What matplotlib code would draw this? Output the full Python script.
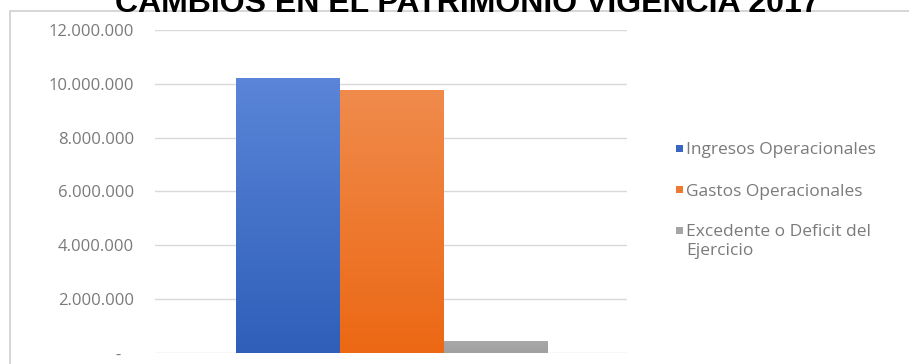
import matplotlib
matplotlib.use("Agg")
import matplotlib.pyplot as plt
import numpy as np
from matplotlib.patches import Rectangle
from matplotlib.ticker import FuncFormatter

title = "CAMBIOS EN EL PATRIMONIO VIGENCIA 2017"
series = ["Ingresos Operacionales", "Gastos Operacionales", "Excedente o Deficit del\nEjercicio"]
values = [10200000, 9770000, 430000]
colors_top = ["#5a85d8", "#f08b4c", "#a8a8a8"]
colors_bottom = ["#2f5fb9", "#ec6814", "#a0a0a0"]
legend_colors = ["#3a66c0", "#ee7a32", "#a5a5a5"]
yticks = [0, 2000000, 4000000, 6000000, 8000000, 10000000, 12000000]

plt.rcParams["font.family"] = ["Open Sans", "DejaVu Sans"]

W, H = 909, 364
fig = plt.figure(figsize=(W / 100, H / 100), dpi=100)
fig.patch.set_facecolor("white")

# outer frame
fig.patches.append(Rectangle((10 / W, -0.1), 1.2, 1 - 11 / H + 0.1, transform=fig.transFigure,
                             fill=False, edgecolor="#d0d0d0", linewidth=1.2, zorder=0))

ax = fig.add_axes([155 / W, 1 - 353 / H, (627 - 155) / W, (353 - 30) / H])
ax.set_yticks(yticks)

def fmt(v, pos):
    if v == 0:
        return "-   "
    return f"{int(v):,}".replace(",", ".")

ax.yaxis.set_major_formatter(FuncFormatter(fmt))
ax.tick_params(axis="y", length=0, pad=15, labelsize=12, labelcolor="#7a7a7a")
ax.tick_params(axis="x", length=0, labelbottom=False)
for s in ax.spines.values():
    s.set_visible(False)
ax.grid(axis="y", color="#d9d9d9", linewidth=1.0)
ax.set_axisbelow(True)

width = 0.22
offsets = [-0.218, 0.002, 0.222]
for i, (lab, v) in enumerate(zip(series, values)):
    b = ax.bar(offsets[i], v, width=width, color=colors_bottom[i], label=lab, zorder=2)[0]
    c1 = np.array(matplotlib.colors.to_rgb(colors_top[i]))
    c2 = np.array(matplotlib.colors.to_rgb(colors_bottom[i]))
    t = np.linspace(0, 1, 100)[:, None]
    grad = (c1[None, :] * (1 - t) + c2[None, :] * t)[:, None, :]
    im = ax.imshow(grad, extent=[offsets[i] - width / 2, offsets[i] + width / 2, 0, v],
                   aspect="auto", zorder=3, interpolation="bilinear")
    im.set_clip_path(b)

ax.set_xlim(-0.5, 0.5)
ax.set_ylim(0, 12000000)

# legend (Excel style: marker aligned with first line of label)
row_centers = [148, 189, 230]
for i, lab in enumerate(series):
    yc = row_centers[i]
    fig.patches.append(Rectangle((676 / W, 1 - (yc + 3.5) / H), 7 / W, 7 / H,
                                 transform=fig.transFigure, facecolor=legend_colors[i],
                                 edgecolor="none"))
    fig.text(686 / W, 1 - (yc - 5.5) / H, lab, ha="left", va="top", fontsize=12.5,
             color="#7a7a7a", linespacing=1.2)

fig.text(467 / W, 1 - 12 / H, title, ha="center", va="baseline",
         fontsize=23, fontweight="bold", family="Liberation Sans", color="black")

fig.savefig("out.png", dpi=100)
